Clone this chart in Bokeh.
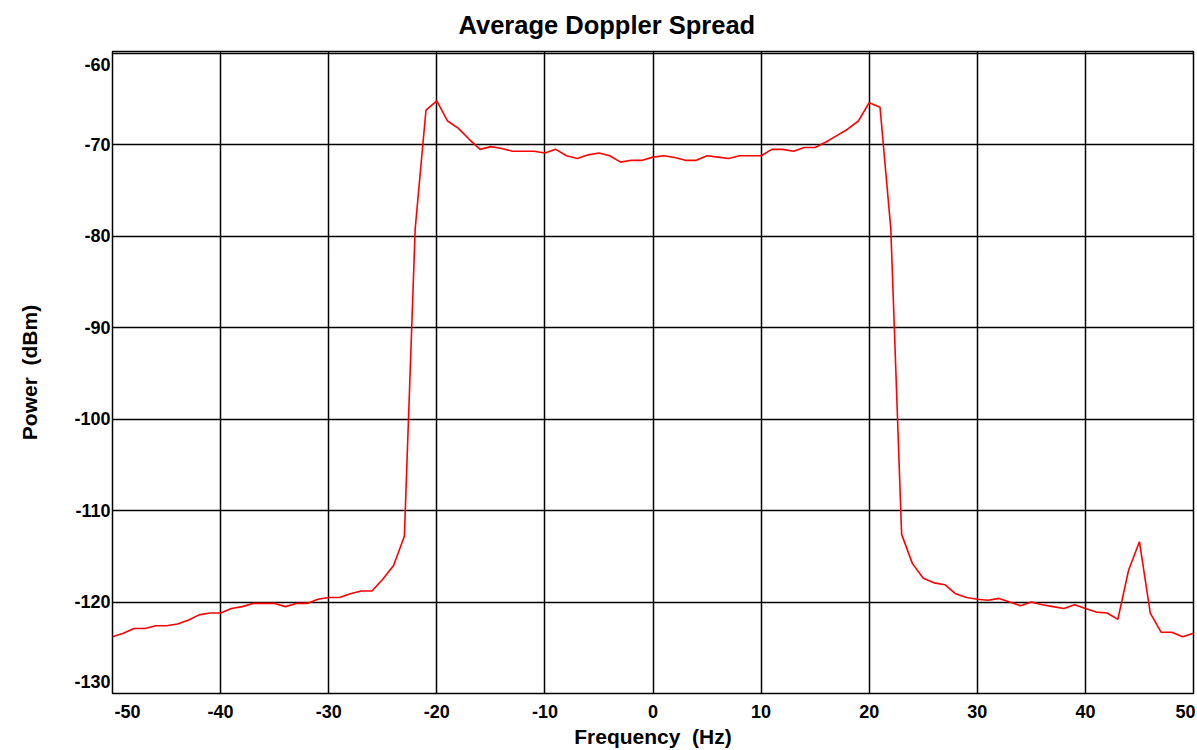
from bokeh.plotting import figure
from bokeh.models import Range1d, FixedTicker, CustomJSTickFormatter
from bokeh.embed import file_html
from bokeh.resources import INLINE

freq = list(range(-50, 51))
power = [
    -123.8, -123.4, -122.9, -122.9, -122.6, -122.6, -122.4, -122.0, -121.4, -121.2,  # -50..-41
    -121.2, -120.7, -120.5, -120.15, -120.15, -120.15, -120.5, -120.15, -120.15, -119.7,  # -40..-31
    -119.5, -119.5, -119.1, -118.8, -118.8, -117.5, -116.0, -112.8, -79.2, -66.2,  # -30..-21
    -65.2, -67.4, -68.2, -69.4, -70.5, -70.2, -70.4, -70.7, -70.7, -70.7,  # -20..-11
    -70.9, -70.5, -71.2, -71.5, -71.1, -70.9, -71.2, -71.9, -71.7, -71.7,  # -10..-1
    -71.35, -71.2, -71.4, -71.7, -71.7, -71.2, -71.35, -71.5, -71.2, -71.2,  # 0..9
    -71.2, -70.5, -70.5, -70.7, -70.3, -70.3, -69.7, -69.0, -68.3, -67.4,  # 10..19
    -65.4, -65.9, -79.2, -112.6, -115.8, -117.4, -117.9, -118.1, -119.1, -119.5,  # 20..29
    -119.7, -119.8, -119.6, -120.0, -120.4, -120.0, -120.3, -120.5, -120.7, -120.3,  # 30..39
    -120.7, -121.1, -121.2, -121.9, -116.5, -113.4, -121.2, -123.3, -123.3, -123.8,  # 40..49
    -123.4,  # 50
]
x_ticks = list(range(-50, 51, 10))
y_ticks = list(range(-130, -59, 10))

FONT = "Liberation Sans"
TICK_SIZE = "18px"
NB = "\u00a0"  # no-break space, used to nudge the first x tick label inward

p = figure(width=1195, height=750, output_backend="svg", toolbar_location=None,
           x_range=Range1d(x_ticks[0], x_ticks[-1]), y_range=Range1d(-130, -59.8),
           title="Average Doppler Spread",
           min_border_left=112, min_border_right=2, min_border_top=51, min_border_bottom=56)

p.title.align = "left"
p.title.offset = 346
p.title.standoff = 21
p.title.vertical_align = "top"
p.title.text_font = FONT
p.title.text_font_size = "25.5px"
p.title.text_font_style = "bold"
p.title.text_color = "black"

p.line(freq, power, line_color="red", line_width=1.6)

fmt = CustomJSTickFormatter(code="return String(tick);")
p.xaxis.ticker = FixedTicker(ticks=x_ticks)
p.yaxis.ticker = FixedTicker(ticks=y_ticks)
for ax in (p.xaxis, p.yaxis):
    ax.formatter = fmt
    ax.major_label_text_font = FONT
    ax.major_label_text_font_size = TICK_SIZE
    ax.major_label_text_font_style = "bold"
    ax.major_label_text_color = "black"
    ax.axis_label_text_font = FONT
    ax.axis_label_text_font_size = "21px"
    ax.axis_label_text_font_style = "bold"
    ax.axis_label_text_color = "black"
    ax.major_tick_in = 0
    ax.major_tick_out = 0
    ax.minor_tick_in = 0
    ax.minor_tick_out = 0
    ax.axis_line_color = None

# edge labels sit inside the plot edges, as in the original
p.xaxis.major_label_overrides = {
    x_ticks[0]: NB * 6 + str(x_ticks[0]),
}
p.yaxis.major_label_overrides = {
    y_ticks[-1]: "\n" + str(y_ticks[-1]),
    y_ticks[0]: str(y_ticks[0]) + "\n",
}

p.xaxis.axis_label = "Frequency\u00a0 (Hz)"
p.yaxis.axis_label = "Power\u00a0 (dBm)"
p.xaxis.major_label_standoff = 8
p.yaxis.major_label_standoff = 2
p.xaxis.axis_label_standoff = 0
p.yaxis.axis_label_standoff = 30

p.grid.grid_line_color = "black"
p.grid.grid_line_width = 1.5
p.grid.grid_line_alpha = 1.0
p.outline_line_color = "black"
p.outline_line_width = 1.5
p.background_fill_color = "white"
p.border_fill_color = "white"

open("out.html", "w").write(file_html(p, INLINE))
